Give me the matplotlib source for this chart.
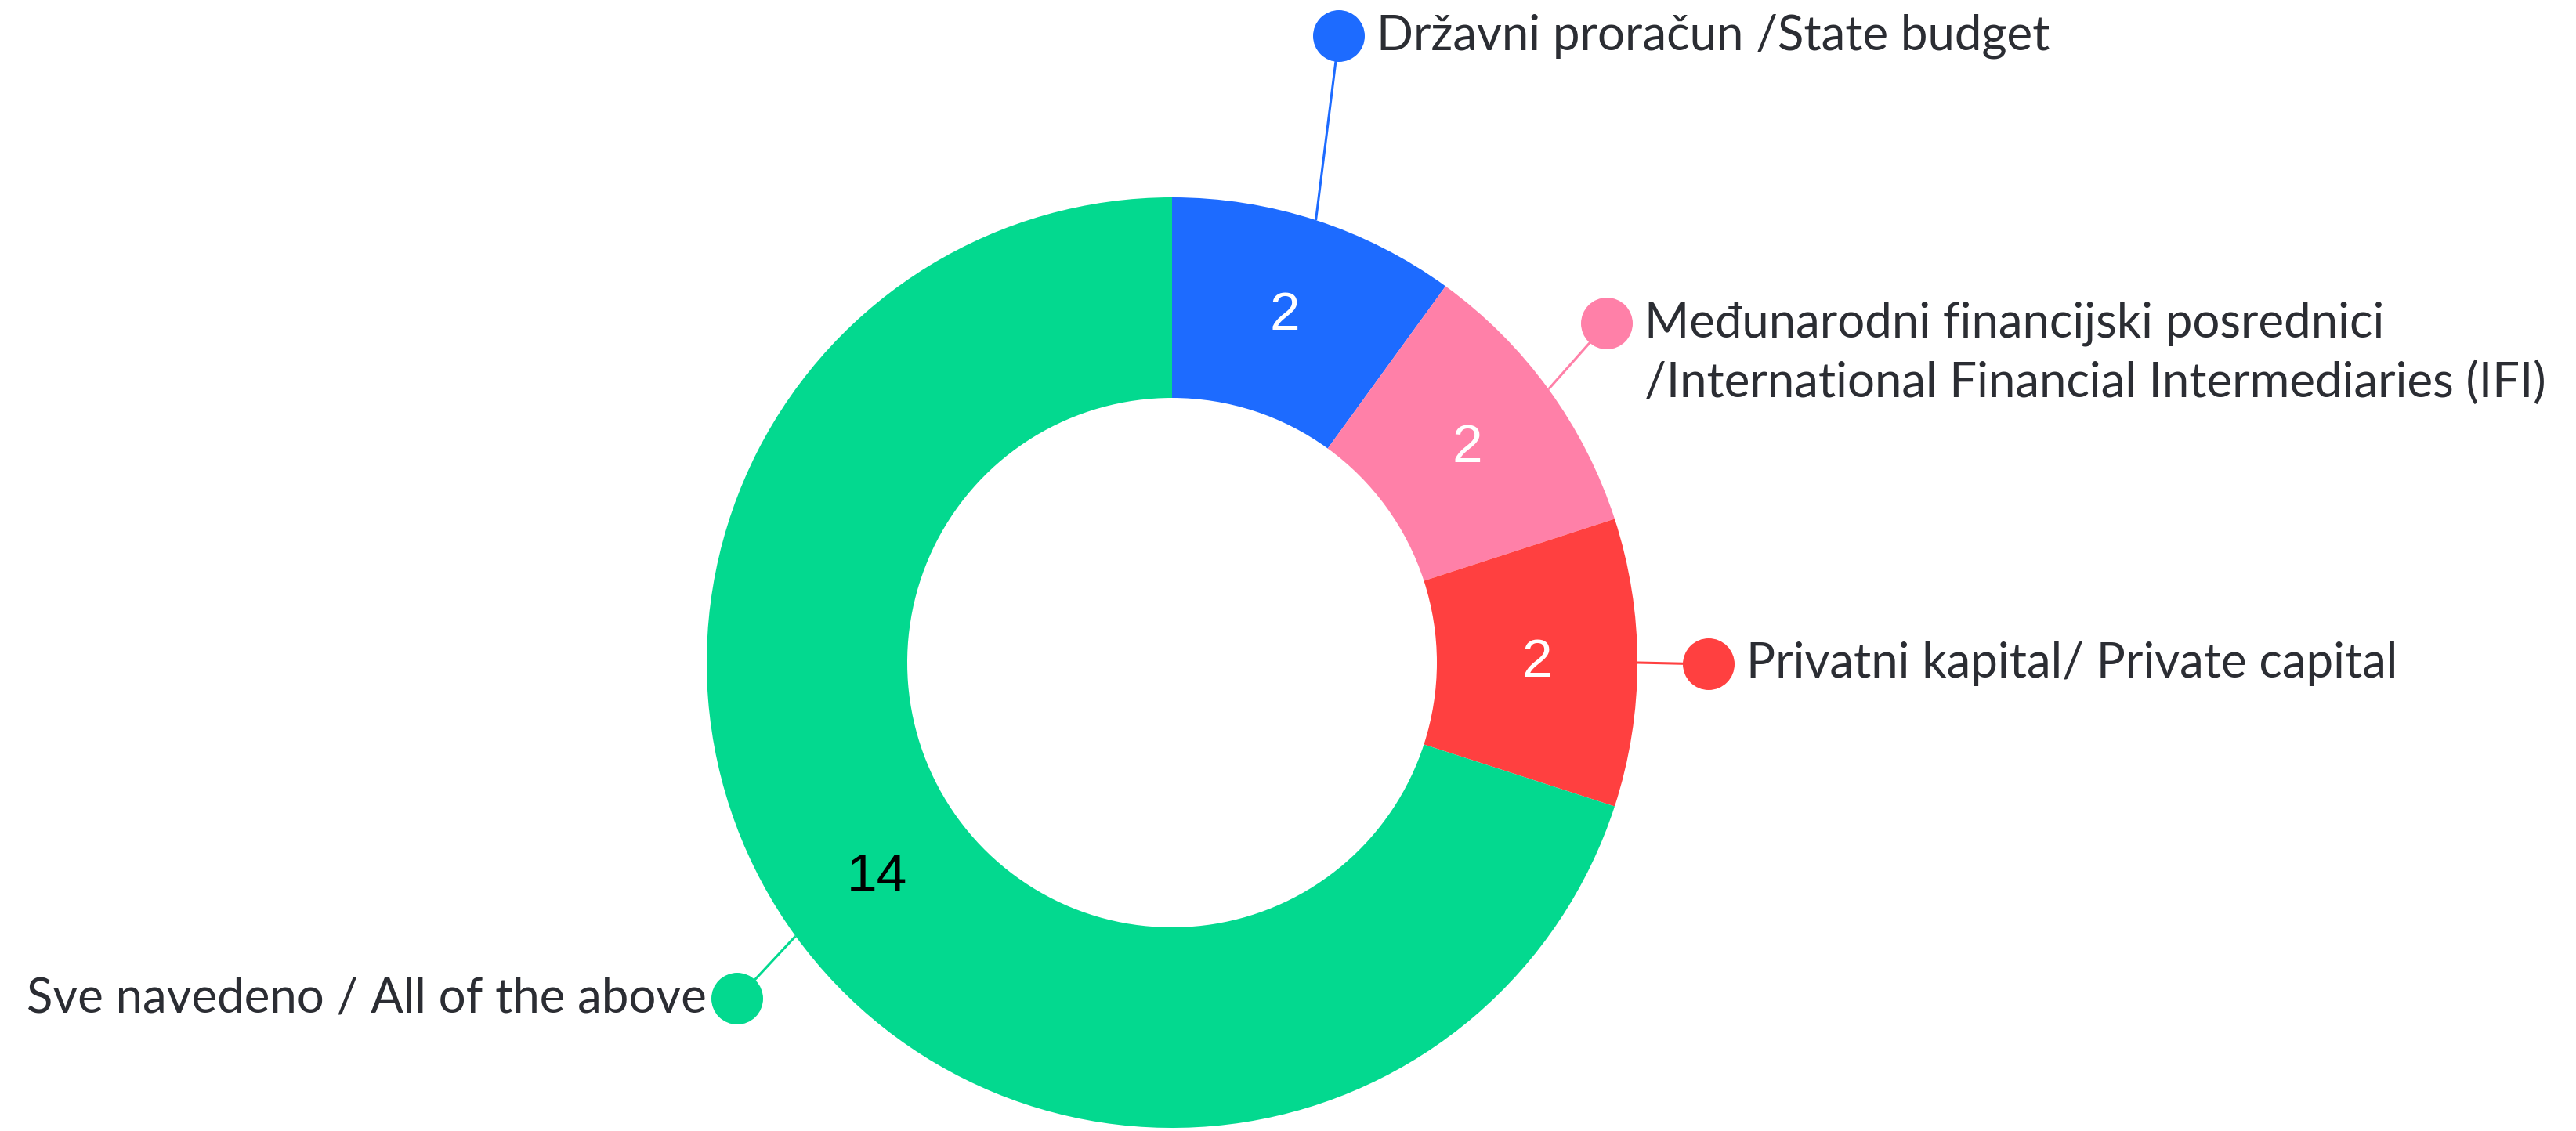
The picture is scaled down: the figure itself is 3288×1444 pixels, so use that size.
import numpy as np
import matplotlib
matplotlib.use("Agg")
import matplotlib.pyplot as plt

# ---- data ----
categories = [
    "Državni proračun /State budget",
    "Međunarodni financijski posrednici\n/International Financial Intermediaries (IFI)",
    "Privatni kapital/ Private capital",
    "Sve navedeno / All of the above",
]
values = [2, 2, 2, 14]
colors = ["#1d6bff", "#ff80a8", "#ff4040", "#03d98f"]
value_text_colors = ["white", "white", "white", "black"]

# ---- layout (pixel coordinates, y measured from top) ----
W, H = 3288, 1444
cx, cy = 1496, 846
r_out, r_in = 594, 338
dot_pos = [(1709, 46), (2051, 413), (2181, 848), (941, 1275)]
text_side = ["right", "right", "right", "left"]
dot_r = 33
label_font = "Lato"
label_size = 44.5
num_size = 50
line_gap = 76  # pixel distance between lines of a two-line label

fig = plt.figure(figsize=(W / 100, H / 100), dpi=100)
ax = fig.add_axes([0, 0, 1, 1])

wedges, _ = ax.pie(values, radius=r_out, center=(cx, H - cy), startangle=90,
                   counterclock=False, colors=colors,
                   wedgeprops=dict(width=r_out - r_in, linewidth=0))
ax.set_xlim(0, W)
ax.set_ylim(0, H)
ax.set_aspect("equal")
ax.axis("off")

r_mid = (r_out + r_in) / 2
for w, v, tc, lab, (dx, dy), side, col in zip(wedges, values, value_text_colors,
                                               categories, dot_pos, text_side, colors):
    ang = np.deg2rad((w.theta1 + w.theta2) / 2)
    # value label
    ax.text(cx + r_mid * np.cos(ang), H - cy + r_mid * np.sin(ang), str(v),
            ha="center", va="center", fontsize=num_size, color=tc,
            family="Liberation Sans")
    # connector
    px, py = cx + r_out * np.cos(ang), H - cy + r_out * np.sin(ang)
    ax.plot([px, dx], [py, H - dy], color=col, lw=2.2, zorder=3,
            solid_capstyle="butt")
    ax.add_patch(plt.Circle((dx, H - dy), dot_r, color=col, zorder=4, lw=0))
    lines = lab.split("\n")
    if side == "right":
        for i, ln in enumerate(lines):
            ax.text(dx + dot_r + 15, H - dy - i * line_gap, ln, ha="left",
                    va="center", fontsize=label_size, color="#2b2d33",
                    family=label_font)
    else:
        ax.text(dx - dot_r - 6, H - dy, lab, ha="right", va="center",
                fontsize=label_size, color="#2b2d33", family=label_font)

fig.savefig("out.png", dpi=100, facecolor="white")
